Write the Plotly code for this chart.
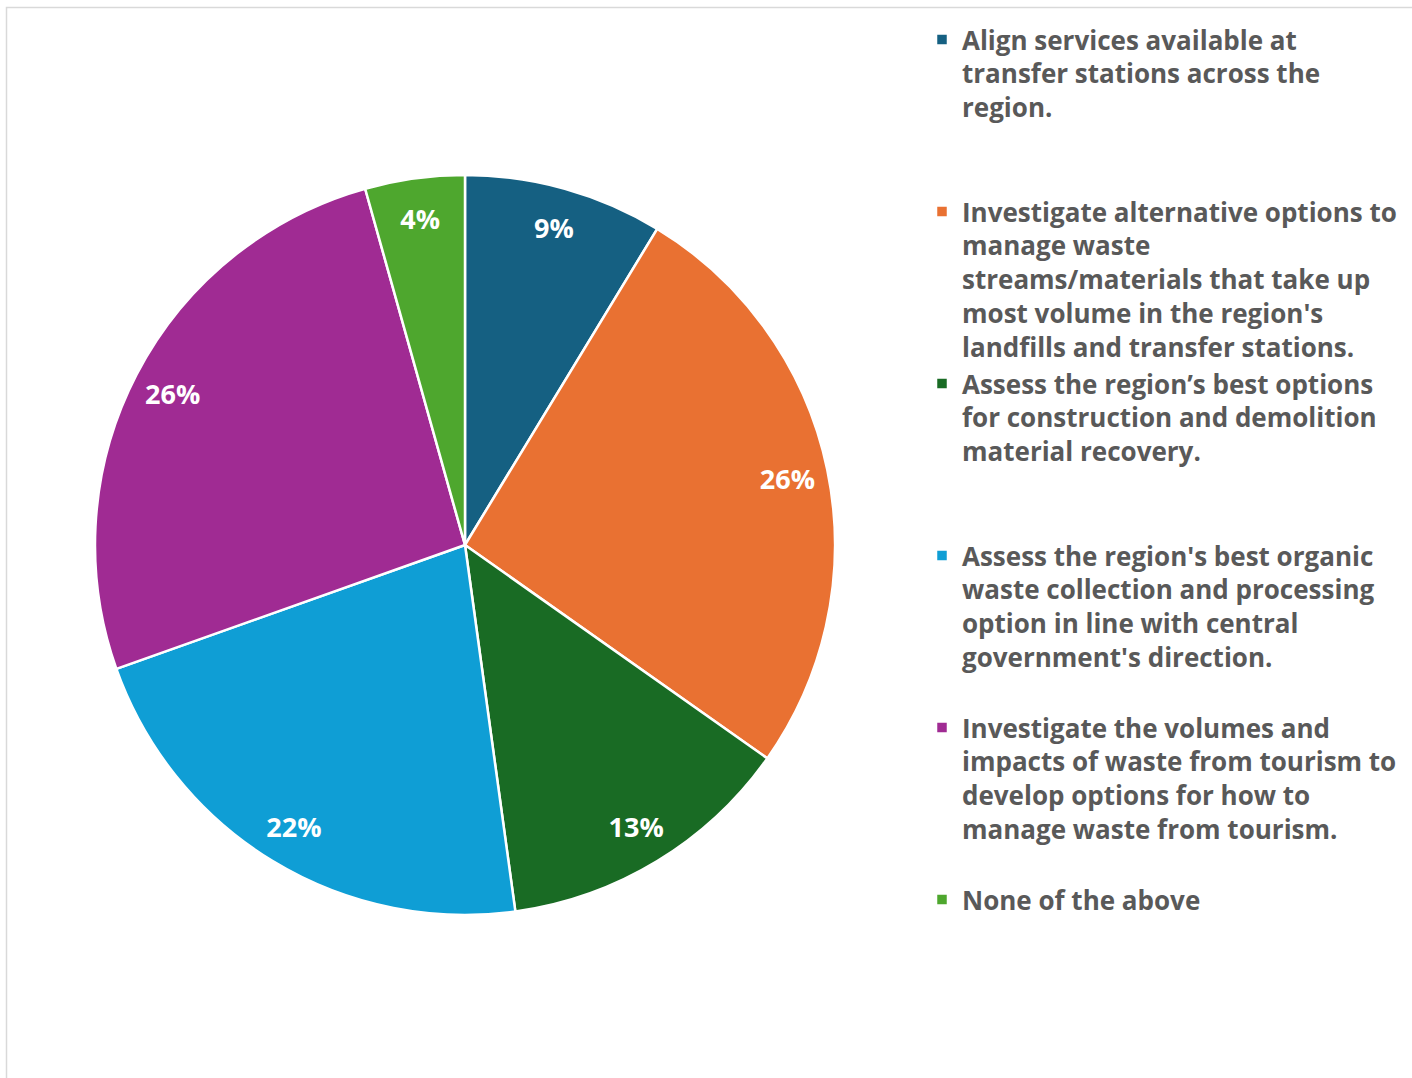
import plotly.graph_objects as go

labels = [
    "Align services available at<br>transfer stations across the<br>region.",
    "Investigate alternative options to<br>manage waste<br>streams/materials that take up<br>most volume in the region's<br>landfills and transfer stations.",
    "Assess the region\u2019s best options<br>for construction and demolition<br>material recovery.",
    "Assess the region's best organic<br>waste collection and processing<br>option in line with central<br>government's direction.",
    "Investigate the volumes and<br>impacts of waste from tourism to<br>develop options for how to<br>manage waste from tourism.",
    "None of the above",
]
values = [2, 6, 3, 5, 6, 1]
colors = ["#156082", "#E97132", "#196B24", "#0F9ED5", "#A02B93", "#4EA72E"]

LINES = 5
def pad(lbl):
    n = lbl.count("<br>") + 1
    return lbl + "<br>\u00a0" * (LINES - n)

W, H = 1412, 1078
cx, cy, r = 465, 545, 370
dom = dict(x=[(cx - r) / W, (cx + r) / W], y=[1 - (cy + r) / H, 1 - (cy - r) / H])
padded = [pad(l) for l in labels]

# base pie: the coloured slices and the legend
fig = go.Figure(go.Pie(
    labels=padded,
    values=values,
    sort=False,
    direction="clockwise",
    rotation=0,
    marker=dict(colors=colors, line=dict(color="white", width=2.5)),
    textinfo="none",
    domain=dom,
    hoverinfo="label+percent",
))

# transparent ring on top that carries the percentage labels near the rim
fig.add_trace(go.Pie(
    labels=padded,
    values=values,
    sort=False,
    direction="clockwise",
    rotation=0,
    hole=0.78,
    marker=dict(colors=["rgba(0,0,0,0)"] * len(values), line=dict(width=0)),
    texttemplate="%{percent:.0%}",
    textposition="inside",
    insidetextorientation="horizontal",
    textfont=dict(family="Open Sans", size=27, color="white", weight="bold"),
    domain=dom,
    showlegend=False,
    hoverinfo="skip",
))

fig.update_layout(
    width=W, height=H,
    margin=dict(l=0, r=0, t=0, b=0),
    paper_bgcolor="white",
    plot_bgcolor="white",
    showlegend=True,
    legend=dict(
        x=(962 - 40) / W, xanchor="left",
        y=1 - 16 / H, yanchor="top",
        valign="top",
        font=dict(family="Open Sans", size=26, color="#595959", weight="bold"),
        itemwidth=30,
        bgcolor="rgba(0,0,0,0)",
        traceorder="normal",
    ),
    shapes=[dict(type="rect", xref="paper", yref="paper",
                 x0=6.5 / W, x1=1.02, y0=-0.02, y1=1 - 7.5 / H,
                 line=dict(color="#D9D9D9", width=1.5), layer="below")],
)

fig.write_html("out.html")
